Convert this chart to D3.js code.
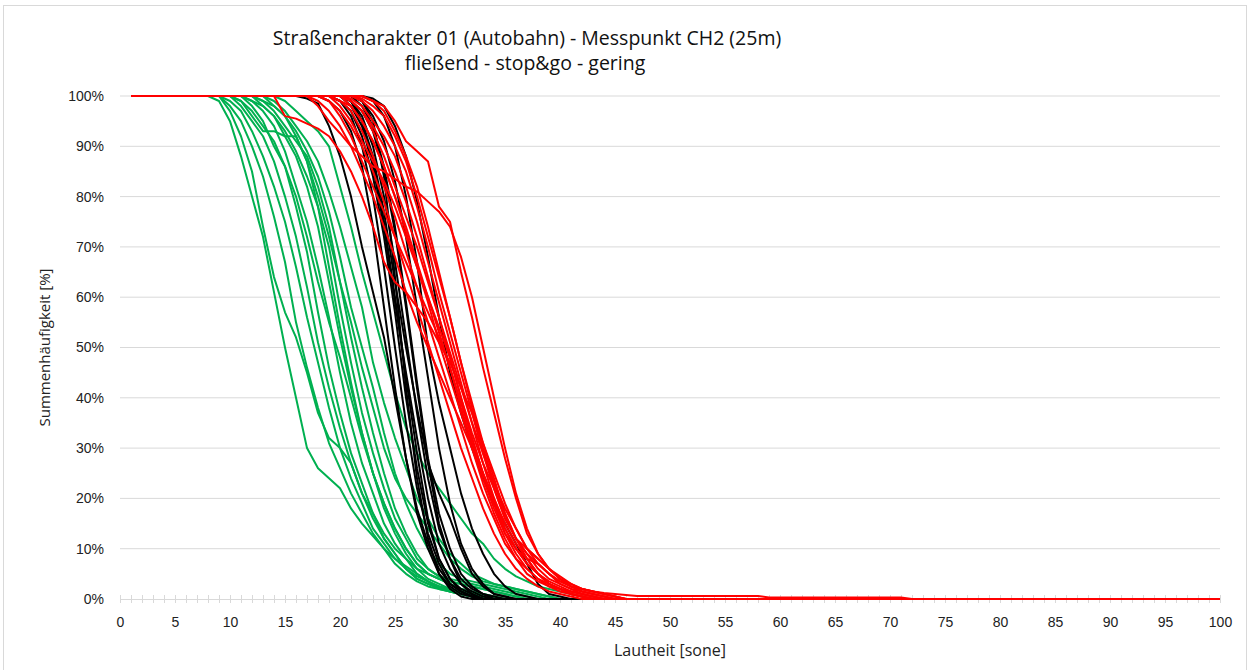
<!DOCTYPE html>
<html><head><meta charset="utf-8">
<script src="https://cdn.jsdelivr.net/npm/d3@7"></script>
<style>
html,body{margin:0;padding:0;background:#fff;}
svg{display:block;font-family:"Liberation Sans Narrow","Open Sans",Arial,sans-serif;}
</style></head>
<body>
<svg id="chart" width="1253" height="670"></svg>
<script>
// ---- data (values in %, consecutive integer sone values from the group start) ----
const titleLines = ["Straßencharakter 01 (Autobahn) - Messpunkt CH2 (25m)", "fließend - stop&go - gering"];
const xTicks = [0,5,10,15,20,25,30,35,40,45,50,55,60,65,70,75,80,85,90,95,100];
const yTicks = [0,10,20,30,40,50,60,70,80,90,100];
const xLabel = "Lautheit [sone]";
const yLabel = "Summenhäufigkeit [%]";
const firstSone = 1, lastSone = 100;

const greenStart = 7;
const greenSeries = [
  [100,100,99,95,88,80,72,61,50,40,30,26,24,22,18,15,12.5,10,8,6.5,5,3.5,2.2,1.5,1,0.5,0],
  [100,100,100,97,92,85,74,64,57,52,45,37,32,30,27,21,17,13,10,8,5,3.5,2.5,1.5,1,0.5,0],
  [100,100,100,99,97,93,88,82,75,66,56,47,38,30,24,19,14,11,8,6,4,3,2,1.5,1,0.5,0],
  [100,100,100,100,98,95,92,87,80,72,62,51,42,34,27,21,16,12,9,6,4.5,3.5,2.5,2,1.5,1,0.5,0],
  [100,100,100,100,99,96,93,93,92,92,87,78,66,54,43,33,25,18,13,9,6,4,3,2,1.5,1,0.5,0],
  [100,100,100,100,100,98,95,90,86,80,72,63,55,48,40,32,25,19,14,10,7,5,4,3,2,1.5,1,0.5,0],
  [100,100,100,100,100,99,97,94,89,82,75,66,56,45,35,27,21,15,11,8,6,5,4,3.5,3,2.5,2,1.5,1,0.5,0],
  [100,100,100,100,100,100,98,96,92,88,82,74,63,52,42,33,25,19,14,10,7,5,4,3,2,1.5,1,0.5,0],
  [100,100,100,100,100,100,99,97,94,91,88,82,74,63,52,42,33,25,18,13,9,6,4.5,4,3.5,3,2.5,2,1.5,1,0.5,0],
  [100,100,100,100,100,100,100,98,96,93,89,84,77,68,58,50,42,33,25,19,14,10,7,5,4,3.5,3,2.5,2,1.5,1,0.5,0],
  [100,100,100,100,100,100,100,99,97,94,91,87,81,74,66,58,47,39,32,26,20,16,12,9,7,5,4,3,2.5,2,1.5,1,0.5,0],
  [100,100,100,100,100,100,100,100,99,97,95,93,90,82,74,65,57,49,41,34,29,25,22,19,16,13,11,8,6,4.5,3.5,2.5,2,1.5,1,0.5,0],
  [100,100,100,100,100,100,99,98,96,92,87,80,72,63,55,46,38,30,24,20,17,14,11,8,6,4.5,3.5,3,2.5,2,1.5,1,0.5,0],
  [100,100,100,98,95,90,84,76,67,55,46,38,31,26,21,17,13,10,7,5,3.5,2.5,2,1.5,1,0.5,0],
  [100,100,100,100,99,97,94,91,86,78,69,57,46,37,29,23,17,12,9,6,4,3,2.5,2,1.5,1,0.5,0],
  [100,100,100,100,100,99,98,96,93,89,84,78,70,58,47,37,29,22,16,12,8,6,4.5,3.5,3,2.5,2,1.5,1,0.5,0]
];

const blackStart = 16;
const blackSeries = [
  [100,99.5,98.5,94,88,80,70,61,52,40,28,18,11,6,3,1.5,0.5,0],
  [100,100,100,99,97,93,86,74,58,42,28,17,10,5,2.5,1,0.5,0],
  [100,100,100,100,99,96,90,80,66,50,35,22,13,7,3,1.5,0.5,0],
  [100,100,100,100,99,97,92,84,72,57,40,26,15,8,4,2,1,0],
  [100,100,100,100,100,99,95,87,75,60,44,29,16,8,4,1.5,0.5,0],
  [100,100,100,100,100,98,94,86,74,59,45,32,20,11,6,3,1.5,0.5,0],
  [100,100,100,100,100,99,96,90,80,67,52,37,24,14,8,4,2,1,0],
  [100,100,100,100,100,100,98,94,86,74,59,43,28,17,10,5,2.5,1,0.5,0],
  [100,100,100,100,100,99,95,88,77,63,50,38,27,21,16,10,5,2.5,1,0.5,0],
  [100,100,100,100,100,100,99,96,91,83,72,58,44,30,19,11,6,3,1,0.5,0],
  [100,100,100,100,100,100,100,99,96,90,80,67,50,39,30,21,14,9,5,2.5,1,0.5,0],
  [100,100,100,100,100,100,100,99.5,98,94,88,79,68,56,45,37,30,24,19,15,11,7,3,1,0.5,0],
  [100,100,100,100,100,99,97,93,85,73,58,42,27,15,8,3,1,0],
  [100,100,100,100,100,100,99,95,84,64,42,24,12,5,2,0.5,0]
];

const redStart = 12;
const redSeries = [
  [100,100,100,96,95.5,94.5,93.5,92,89,85,80,74,67,63,61,58,55,51,47,42,37,31,25,19,14,10,7,5,3.5,2.5,2,1.5,1,0.5,0],
  [100,100,100,100,100,100,98,95,92.6,90,88,86,85,83.5,82,81,79,77,74,68,60,50,40,30,21,14,9,6,4,3,2,1.5,1,0.5,0],
  [100,100,100,100,100,100,100,100,100,100,100,99,98,95,91,89,87,78,75,65,56,46,37,28,20,13,9,6,4,2.5,1.5,1,0.5,0],
  [100,100,100,100,100,100,100,99,97,94,90,85,79,72,65,58,51,44,37,30,24,18,13,9,6,4,2.5,1.5,1,0.5,0],
  [100,100,100,100,100,100,100,100,99,97,93,88,82,76,69,62,55,48,41,34,27,21,16,11,8,5,3.5,2.5,2,1.5,1,0.5,0],
  [100,100,100,100,100,100,100,100,99,98,95,91,86,80,73,66,59,51,44,37,30,23,17,12,8,6,4,3,2,1.5,1,0.5,0],
  [100,100,100,100,100,100,100,100,100,99,97,94,90,85,79,72,64,56,48,40,32,25,19,13,9,6,4,2.5,1.5,1,0.5,0],
  [100,100,100,100,100,100,100,100,100,99.5,98,95,92,88,82,75,67,59,51,43,35,27,20,14,10,7,5,3.5,2.5,1.5,1,0.5,0],
  [100,100,100,100,100,100,100,100,98,95,91,87,83,78,72,66,60,54,48,40,33,27,22,16,12,10,8,6,4,2.5,1.5,1,0.5,0],
  [100,100,100,100,100,100,100,100,100,100,99,97,94,90,85,78,70,61,53,45,37,29,22,16,12,9,6,4,3,2,1.5,1,0.5,0],
  [100,100,100,100,100,100,100,100,100,100,99.5,98,96,92,87,80,72,64,56,47,39,31,24,17,12,8,5,3,2,1,0.5,0],
  [100,100,100,100,100,100,100,100,100,99,97,93,88,82,76,70,63,56,49,42,35,29,23,18,14,10,8,6,4.5,3,2,1.5,1.2,1,0.8,
   0.6,0.6,0.6,0.6,0.6,0.6,0.6,0.6,0.6,0.6,0.6,0.6,0.3,0.3,0.3,0.3,0.3,0.3,0.3,0.3,0.3,0.3,0.3,0.3,0.3,0],
  [100,100,100,100,100,100,100,100,100,98,95,91,86,80,74,67,60,53,46,38,31,24,18,13,10,8,7,5,3,2,1,0.5,0],
  [100,100,100,100,100,100,100,99,96,92,87,82,77,72,67,62,57,52,46,39,32,25,19,14,10,7,5,3,2,1,0.5,0],
  [100,100,100,100,100,100,100,100,100,100,100,99,97,93,88,82,74,65,56,47,38,30,23,17,12,9,7,5,3.5,2.5,2,1.5,1,0.5,0],
  [100,100,100,100,100,100,99,97,94,90,85,80,74,68,61,55,50,45,40,35,30,25,20,15,11,8,5,3,2,1,0.5,0]
];

const groups = [
  {start: greenStart, series: greenSeries, color: "#00B050"},
  {start: blackStart, series: blackSeries, color: "#000000"},
  {start: redStart,   series: redSeries,   color: "#FF0000"}
];

// ---- drawing ----
const svg = d3.select("#chart");
const plot = {left: 120, right: 1220, top: 96, bottom: 599};

svg.append("rect").attr("x", 3.5).attr("y", 5.5).attr("width", 1243).attr("height", 670)
  .attr("fill", "#fff").attr("stroke", "#d9d9d9");

const x = d3.scaleLinear().domain([0, 100]).range([plot.left, plot.right]);
const y = d3.scaleLinear().domain([0, 100]).range([plot.bottom, plot.top]);

// gridlines
svg.append("g").selectAll("line").data(yTicks.filter(d => d > 0)).join("line")
  .attr("x1", plot.left).attr("x2", plot.right)
  .attr("y1", d => y(d)).attr("y2", d => y(d))
  .attr("stroke", "#d9d9d9").attr("stroke-width", 1);

// x axis with minor ticks every 1 sone
const xAxisG = svg.append("g").attr("transform", `translate(0,${plot.bottom})`);
xAxisG.call(d3.axisBottom(x).tickValues(d3.range(0, 101, 1)).tickSize(4).tickSizeOuter(0).tickFormat(""));
xAxisG.select(".domain").attr("stroke", "#d9d9d9");
xAxisG.selectAll(".tick line").attr("stroke", "#d9d9d9").attr("y1", -4).attr("y2", 4);

const xLabG = svg.append("g").attr("transform", `translate(0,${plot.bottom})`);
xLabG.call(d3.axisBottom(x).tickValues(xTicks).tickSize(0).tickPadding(18).tickFormat(d => d));
xLabG.select(".domain").remove();
xLabG.selectAll("text").attr("font-size", 14).attr("fill", "#222").attr("font-family", "inherit");

// y axis labels
const yAxisG = svg.append("g").attr("transform", `translate(${plot.left},0)`);
yAxisG.call(d3.axisLeft(y).tickValues(yTicks).tickSize(0).tickPadding(16).tickFormat(d => d + "%"));
yAxisG.select(".domain").remove();
yAxisG.selectAll("text").attr("font-size", 14).attr("fill", "#222").attr("font-family", "inherit");

// lines
const line = d3.line().x(d => x(d[0])).y(d => y(d[1]));
groups.forEach(g => {
  const gg = svg.append("g");
  g.series.forEach(vals => {
    const pts = [[firstSone, 100]];
    vals.forEach((v, i) => pts.push([g.start + i, v]));
    pts.push([lastSone, 0]);
    gg.append("path").datum(pts).attr("d", line)
      .attr("fill", "none").attr("stroke", g.color).attr("stroke-width", 2)
      .attr("stroke-linejoin", "round");
  });
});

// titles
svg.append("text").attr("x", 527).attr("y", 45).attr("text-anchor", "middle")
  .attr("font-size", 19.5).attr("fill", "#111").text(titleLines[0]);
svg.append("text").attr("x", 525).attr("y", 70).attr("text-anchor", "middle")
  .attr("font-size", 19.5).attr("fill", "#111").text(titleLines[1]);

svg.append("text").attr("x", (plot.left + plot.right) / 2).attr("y", 656).attr("text-anchor", "middle")
  .attr("font-size", 16).attr("fill", "#222").text(xLabel);
svg.append("text").attr("transform", `translate(50,${(plot.top + plot.bottom) / 2}) rotate(-90)`)
  .attr("text-anchor", "middle").attr("font-size", 15).attr("fill", "#222").text(yLabel);
</script>
</body></html>
